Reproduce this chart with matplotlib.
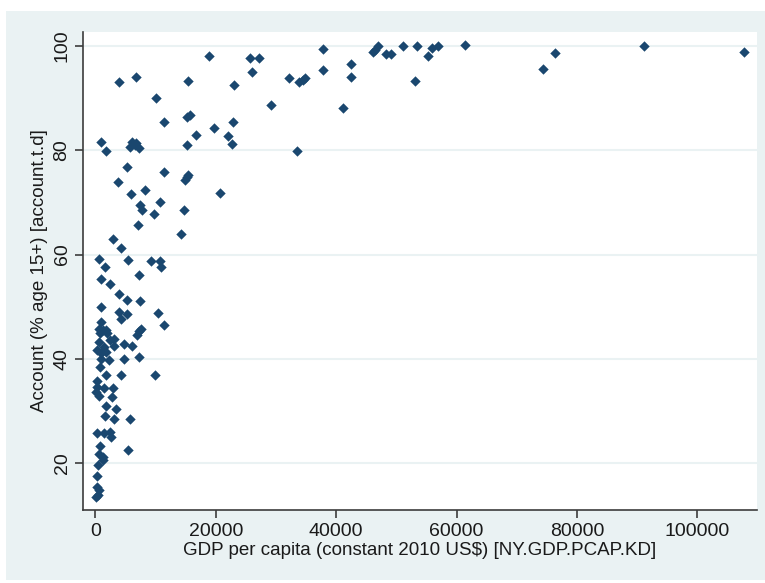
import matplotlib.pyplot as plt
from matplotlib.patches import Rectangle
from matplotlib import font_manager

# GDP per capita (constant 2010 US$) vs account ownership (% age 15+)
gdp = [
    18890, 25690, 27190, 37770, 46080, 46460, 46910, 48290, 49070, 51160,
    53480, 53100, 55210, 55880, 56970, 61410, 74370, 76410, 91140, 107700,
    3990, 6760, 15450, 26080, 23090, 32220, 33880, 34450, 34880, 37770,
    42420, 42420, 10130, 29230, 41140, 11460, 15180, 15730, 22920, 19720,
    16730, 22090, 22710, 15230, 33500, 1030, 1830, 6150, 5710, 6540,
    7260, 6760, 5270, 11460, 15180, 15450, 14950, 3770, 5880, 8260,
    20760, 7370, 7810, 10750, 9750, 14780, 7140, 14190, 2890, 4220,
    580, 1610, 5480, 9250, 10800, 10960, 7210, 1000, 2520, 3990,
    5270, 7420, 900, 3990, 4240, 5270, 10360, 11410, 980, 6930,
    7290, 7670, 610, 1280, 1830, 1990, 730, 3160, 2390, 4770,
    6150, 3110, 560, 1490, 280, 1000, 1730, 1000, 2280, 4820,
    9920, 830, 1830, 4220, 7210, 280, 330, 170, 1450, 2940,
    610, 2820, 1860, 3360, 1640, 3160, 5710, 320, 1450, 2520,
    2610, 810, 700, 1200, 1360, 5480, 370, 280, 330, 560,
    170, 450,
]
account = [
    98.1, 97.6, 97.6, 99.4, 98.8, 99.2, 100.0, 98.4, 98.4, 99.9,
    99.9, 93.3, 98.1, 99.6, 99.9, 100.2, 95.6, 98.7, 99.9, 98.9,
    93.1, 94.1, 93.3, 95.1, 92.6, 93.8, 93.0, 93.5, 93.9, 95.3,
    96.6, 94.1, 90.0, 88.7, 88.2, 85.5, 86.3, 86.8, 85.5, 84.2,
    82.9, 82.7, 81.2, 81.0, 79.9, 81.6, 79.9, 81.6, 80.7, 81.0,
    80.4, 81.4, 76.7, 75.8, 74.9, 75.3, 74.3, 73.9, 71.6, 72.3,
    71.9, 69.5, 68.6, 70.1, 67.8, 68.5, 65.7, 64.0, 63.0, 61.2,
    59.2, 57.7, 59.0, 58.7, 58.8, 57.7, 56.1, 55.4, 54.4, 52.4,
    51.3, 51.1, 50.0, 48.9, 47.7, 48.6, 48.8, 46.5, 47.1, 44.6,
    45.3, 45.8, 45.7, 45.5, 45.5, 44.9, 45.0, 43.9, 43.6, 42.8,
    42.5, 42.5, 43.3, 42.3, 41.7, 41.2, 41.4, 39.9, 39.7, 40.0,
    36.9, 38.4, 36.9, 36.9, 40.4, 35.7, 34.7, 33.7, 34.5, 34.5,
    32.8, 32.7, 30.9, 30.3, 29.1, 28.5, 28.5, 25.8, 25.8, 26.0,
    25.0, 23.3, 21.8, 21.2, 20.7, 22.5, 19.7, 17.5, 15.4, 14.9,
    13.6, 13.9,
]

x_ticks = [0, 20000, 40000, 60000, 80000, 100000]
y_ticks = [20, 40, 60, 80, 100]

installed = {f.name for f in font_manager.fontManager.ttflist}
family = 'Liberation Sans Narrow' if 'Liberation Sans Narrow' in installed else 'Liberation Sans'
plt.rcParams['font.family'] = [family, 'DejaVu Sans']

navy = '#1a476f'
panel = '#eaf2f3'
axis_col = '#3c3c3c'

fig = plt.figure(figsize=(7.65, 5.83), dpi=100, facecolor='white')
fig.patches.append(Rectangle((6 / 765, 3 / 583), 759 / 765, 569 / 583,
                             transform=fig.transFigure, facecolor=panel,
                             edgecolor='none', zorder=-10))

ax = fig.add_axes([83 / 765, 1 - 510 / 583, 674 / 765, 478 / 583])
ax.set_facecolor('white')
ax.scatter(gdp, account, marker='D', s=28, color=navy, linewidths=0, zorder=3)

ax.set_xlim(-2040, 109900)
ax.set_ylim(11.03, 102.68)
ax.set_xticks(x_ticks)
ax.set_yticks(y_ticks)
ax.set_xticklabels([str(v) for v in x_ticks])
ax.set_yticklabels([str(v) for v in y_ticks], rotation=90, va='center')

ax.grid(axis='y', color=panel, linewidth=1.5, zorder=0)
ax.grid(axis='x', visible=False)

for side in ('top', 'right'):
    ax.spines[side].set_visible(False)
for side in ('left', 'bottom'):
    ax.spines[side].set_color(axis_col)
    ax.spines[side].set_linewidth(1.2)

ax.tick_params(axis='both', length=6, width=1.2, color=axis_col,
               labelsize=14, labelcolor='#1a1a1a', pad=3)

ax.set_xlabel('GDP per capita (constant 2010 US$) [NY.GDP.PCAP.KD]',
              fontsize=13.5, color='#1a1a1a', labelpad=2)
ax.set_ylabel('Account (% age 15+) [account.t.d]',
              fontsize=13.5, color='#1a1a1a', labelpad=4)

fig.savefig('out.png', dpi=100, facecolor=fig.get_facecolor())
